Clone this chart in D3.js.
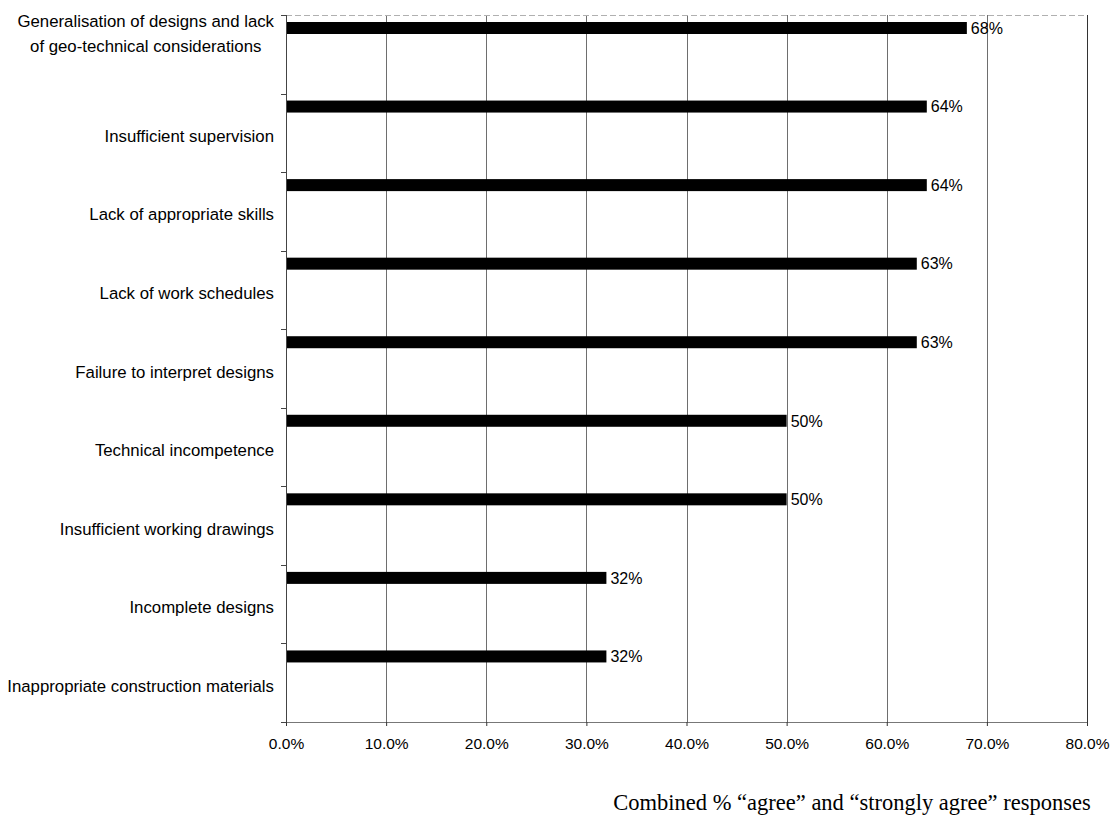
<!DOCTYPE html>
<html>
<head>
<meta charset="utf-8">
<script src="https://cdn.jsdelivr.net/npm/d3@7"></script>
<style>
  html, body { margin: 0; padding: 0; background: #fff; }
  svg { display: block; }
</style>
</head>
<body>
<svg id="chart" width="1120" height="835"></svg>
<script>
// Causes of defects, ranked by combined agreement
const categories = [
  ["Generalisation of designs and lack", "of geo-technical considerations"],
  ["Insufficient supervision"],
  ["Lack of appropriate skills"],
  ["Lack of work schedules"],
  ["Failure to interpret designs"],
  ["Technical incompetence"],
  ["Insufficient working drawings"],
  ["Incomplete designs"],
  ["Inappropriate construction materials"]
];
const values = [68, 64, 64, 63, 63, 50, 50, 32, 32];
const xTicks = [0, 10, 20, 30, 40, 50, 60, 70, 80];
const axisTitle = "Combined % \u201Cagree\u201D and \u201Cstrongly agree\u201D responses";

const svg = d3.select("#chart");
const plotLeft = 286, plotRight = 1087, plotTop = 15, plotBottom = 722;
const sans = "'Liberation Sans', Arial, sans-serif";

const x = d3.scaleLinear().domain([0, 80]).range([plotLeft, plotRight]);
const y = d3.scaleBand().domain(d3.range(categories.length)).range([plotTop, plotBottom]);

// vertical gridlines
svg.append("g").selectAll("line")
  .data(xTicks.filter(t => t > 0 && t < 80))
  .join("line")
  .attr("x1", d => Math.round(x(d)) + 0.5).attr("x2", d => Math.round(x(d)) + 0.5)
  .attr("y1", plotTop).attr("y2", plotBottom)
  .attr("stroke", "#6e6e6e").attr("stroke-width", 1);

// plot frame: faint top, dark right edge
svg.append("line").attr("x1", plotLeft).attr("x2", plotRight)
  .attr("y1", plotTop + 0.5).attr("y2", plotTop + 0.5)
  .attr("stroke", "#b0b0b0").attr("stroke-dasharray", "6,3");
svg.append("line").attr("x1", plotRight + 0.5).attr("x2", plotRight + 0.5)
  .attr("y1", plotTop).attr("y2", plotBottom)
  .attr("stroke", "#333");

// bars sit in the upper part of each band
const barOffset = 7, barH = 12;
svg.append("g").selectAll("rect")
  .data(values)
  .join("rect")
  .attr("x", x(0))
  .attr("y", (d, i) => y(i) + barOffset)
  .attr("width", d => x(d) - x(0))
  .attr("height", barH)
  .attr("fill", "#000");

// value labels
svg.append("g").selectAll("text")
  .data(values)
  .join("text")
  .attr("x", d => x(d) + 4)
  .attr("y", (d, i) => y(i) + barOffset + barH / 2)
  .attr("dy", "0.36em")
  .attr("font-family", sans).attr("font-size", 16)
  .text(d => d + "%");

// x axis
const xAxis = d3.axisBottom(x).tickValues(xTicks)
  .tickFormat(d => d.toFixed(1) + "%").tickSize(4).tickPadding(12);
const gx = svg.append("g").attr("transform", `translate(0,${plotBottom})`).call(xAxis);
gx.select(".domain").attr("stroke", "#777");
gx.selectAll(".tick line").attr("stroke", "#333");
gx.selectAll("text").attr("font-family", sans).attr("font-size", 15.5).attr("fill", "#000");

// y axis with ticks at band boundaries
const gy = svg.append("g");
gy.append("line").attr("x1", plotLeft + 0.5).attr("x2", plotLeft + 0.5)
  .attr("y1", plotTop).attr("y2", plotBottom)
  .attr("stroke", "#444");
gy.selectAll("line.tk")
  .data(d3.range(categories.length + 1))
  .join("line").attr("class", "tk")
  .attr("x1", plotLeft - 5).attr("x2", plotLeft)
  .attr("y1", i => Math.round(plotTop + i * y.step()) + 0.5)
  .attr("y2", i => Math.round(plotTop + i * y.step()) + 0.5)
  .attr("stroke", "#444");

// category labels: right aligned, wrapped labels centred as a block
const labelRight = 274;
categories.forEach((lines, i) => {
  const cy = y(i) + y.bandwidth() / 2 + 3;
  const t = svg.append("text")
    .attr("font-family", sans).attr("font-size", 16.8).attr("fill", "#000");
  if (lines.length === 1) {
    t.attr("x", labelRight).attr("y", cy).attr("dy", "0.36em")
      .attr("text-anchor", "end").text(lines[0]);
  } else {
    const spans = t.selectAll("tspan").data(lines).join("tspan").text(d => d);
    const w = d3.max(spans.nodes(), n => n.getComputedTextLength());
    const cx = labelRight - w / 2;
    spans.attr("x", cx).attr("text-anchor", "middle")
      .attr("y", (d, k) => y(i) + 6 + k * 25)
      .attr("dy", "0.36em");
  }
});

// axis title
svg.append("text")
  .attr("x", 852).attr("y", 810)
  .attr("text-anchor", "middle")
  .attr("font-family", "'Liberation Serif', 'Times New Roman', serif")
  .attr("font-size", 22.5).attr("fill", "#000")
  .text(axisTitle);
</script>
</body>
</html>
